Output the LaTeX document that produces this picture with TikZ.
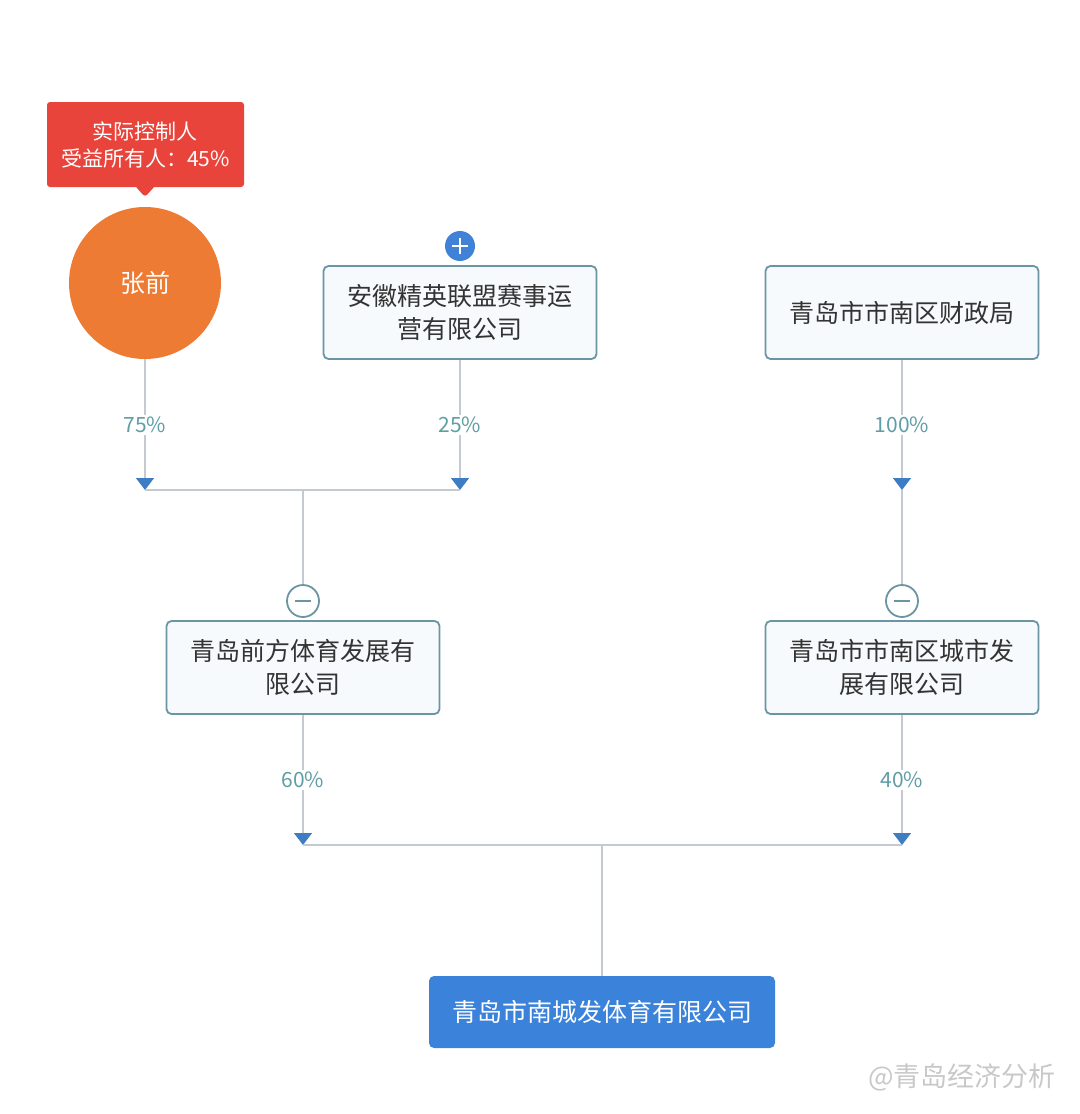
\documentclass[tikz,border=0pt]{standalone}
\usepackage{fontspec}
\setmainfont{Noto Sans CJK SC}
\usetikzlibrary{positioning}
\usetikzlibrary{arrows.meta,shapes.callouts}
\definecolor{boxline}{HTML}{6B95A3}
\definecolor{boxfill}{HTML}{F6FAFC}
\definecolor{textdark}{HTML}{333333}
\definecolor{pcttext}{HTML}{5F9EA5}
\definecolor{linkgray}{HTML}{C5CAD0}
\definecolor{tipblue}{HTML}{3E7CC4}
\definecolor{plusblue}{HTML}{3F82D8}
\definecolor{boxblue}{HTML}{3B82DA}
\definecolor{tagred}{HTML}{E8443B}
\definecolor{personorange}{HTML}{EE7B33}
\definecolor{markgray}{HTML}{C8C8C8}

\begin{document}
\begin{tikzpicture}[
  x=0.5pt, y=-0.5pt,
  every node/.style={font=\fontsize{12.5}{16.5}\selectfont},
  firm/.style={draw=boxline, fill=boxfill, rounded corners=2.5pt, line width=0.9pt,
    text=textdark, align=center, minimum width=136.5pt, minimum height=46.5pt, inner sep=2pt},
  target/.style={fill=boxblue, rounded corners=2.5pt, text=white,
    minimum width=173pt, minimum height=36pt},
  person/.style={circle, fill=personorange, text=white, minimum size=76pt,
    font=\fontsize{12.5}{14}\selectfont},
  tag/.style={rectangle callout, fill=tagred, text=white, align=center, rounded corners=1.5pt,
    minimum width=98.5pt, minimum height=42.5pt, callout pointer width=9pt,
    font=\fontsize{10.5}{13.5}\selectfont},
  pct/.style={fill=white, text=pcttext, inner sep=1pt, font=\fontsize{10.5}{11}\selectfont},
  link/.style={draw=linkgray, line width=0.6pt},
  tip/.style={-{Triangle[width=9pt, length=6pt, color=tipblue]}},
  minusdot/.style={circle, draw=boxline, fill=white, line width=0.9pt, minimum size=16pt, inner sep=0pt},
  plusdot/.style={circle, fill=plusblue, minimum size=15pt, inner sep=0pt}
]
\useasboundingbox (0,0) rectangle (1080,1114);

% shareholders
\node[person] (zhang) at (145,283) {张前};
\node[tag, callout absolute pointer={(145,197)}] (ctrl) at (145.5,144.5)
  {实际控制人\\受益所有人：45\%};
\node[firm] (anhui) at (460,312.5) {安徽精英联盟赛事运\\营有限公司};
\node[firm] (czj) at (902,312.5) {青岛市市南区财政局};

% middle layer
\node[firm] (qianfang) at (303,667.5) {青岛前方体育发展有\\限公司};
\node[firm] (chengfa) at (902,667.5) {青岛市市南区城市发\\展有限公司};

% target company
\node[target] (nancheng) at (602,1012) {青岛市南城发体育有限公司};

% expand / collapse icons
\node[plusdot] (pA) at (460,246) {};
\draw[white, line width=1pt] ([xshift=-4pt]pA.center) -- ([xshift=4pt]pA.center)
  ([yshift=-4pt]pA.center) -- ([yshift=4pt]pA.center);
\node[minusdot] (mQ) at (303,601) {};
\draw[boxline, line width=0.9pt] ([xshift=-4pt]mQ.center) -- ([xshift=4pt]mQ.center);
\node[minusdot] (mC) at (902,601) {};
\draw[boxline, line width=0.9pt] ([xshift=-4pt]mC.center) -- ([xshift=4pt]mC.center);

% junctions
\coordinate (j1a) at (145,490);
\coordinate (j1b) at (460,490);
\coordinate (j1) at (303,490);
\coordinate (j2) at (902,490);
\coordinate (j3a) at (303,845);
\coordinate (j3b) at (902,845);
\coordinate (j3) at (602,845);

\draw[link, tip] (zhang) -- node[pct]{75\%} (j1a);
\draw[link, tip] (anhui.south) -- node[pct]{25\%} (j1b);
\draw[link] (j1a) -- (j1b);
\draw[link] (j1) -- (mQ);

\draw[link, tip] (czj.south) -- node[pct]{100\%} (j2);
\draw[link] (j2) -- (mC);

\draw[link, tip] (qianfang.south) -- node[pct]{60\%} (j3a);
\draw[link, tip] (chengfa.south) -- node[pct]{40\%} (j3b);
\draw[link] (j3a) -- (j3b);
\draw[link] (j3) -- (nancheng);

\node[text=markgray, font=\fontsize{13.5}{15}\selectfont] (mark) at (962,1077) {@青岛经济分析};
\end{tikzpicture}
\end{document}
